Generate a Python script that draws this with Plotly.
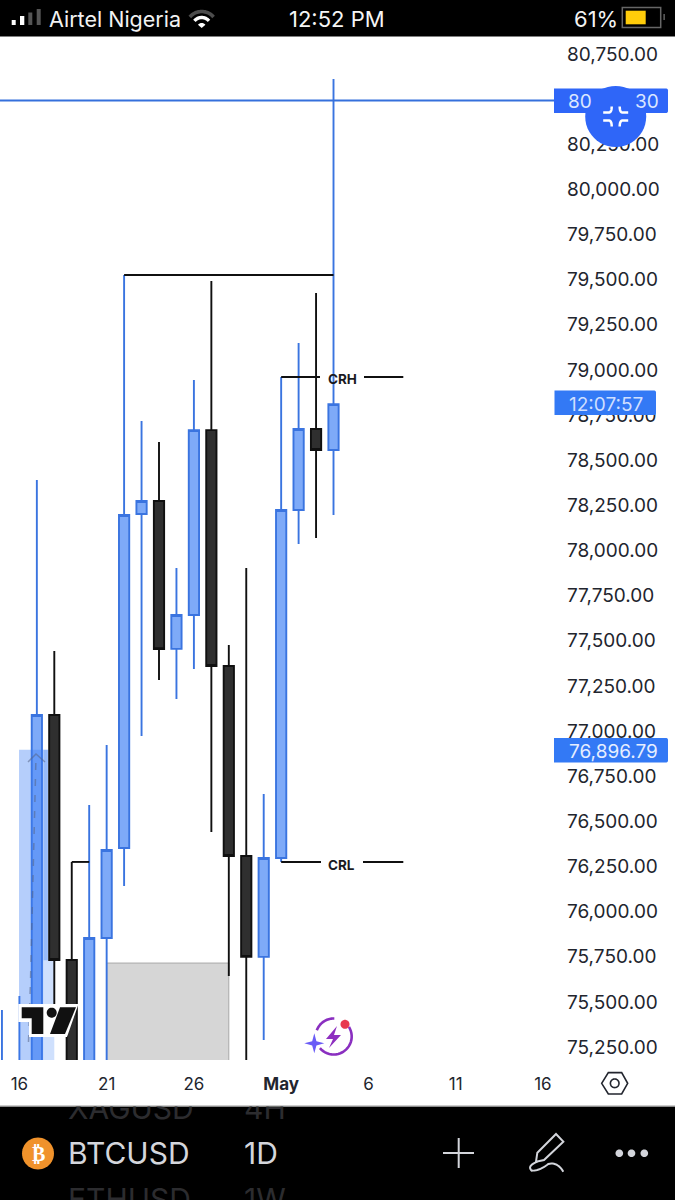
import math
import pandas as pd
import plotly.graph_objects as go

# ---------- chart data ----------
DATES = ["2026-04-15","2026-04-16","2026-04-17","2026-04-18","2026-04-19","2026-04-20","2026-04-21",
         "2026-04-22","2026-04-23","2026-04-24","2026-04-25","2026-04-26","2026-04-27","2026-04-28",
         "2026-04-29","2026-04-30","2026-05-01","2026-05-02","2026-05-03","2026-05-04"]
OPEN  = [74950,75000,75150,77089,75732,75100,75854,76352,78202,78274,77455,77643,78667,77360,
         76308,75749,76297,78224,78673,78557]
HIGH  = [75455,75532,78390,77443,76275,76590,76923,79526,78717,78601,77903,78944,79493,77477,
         77903,76651,78961,79149,79426,80611]
LOW   = [74700,74800,74900,75483,74800,74900,75000,76142,76973,77283,77178,77344,76441,75643,
         75000,75289,76275,78036,78069,78197]
CLOSE = [75100,75150,77089,75732,75100,75854,76341,78197,78274,77454,77643,78667,77360,76308,
         75749,76297,78224,78673,78557,78811]

PRICE_TICKS = [75250,75500,75750,76000,76250,76500,76750,77000,77250,77500,77750,78000,
               78250,78500,78750,79000,79250,79500,79750,80000,80250,80500,80750]
PRICE_TEXT = [f"{v:,.2f}" for v in PRICE_TICKS]
DATE_TICKS = ["2026-04-16","2026-04-21","2026-04-26","2026-05-01","2026-05-06","2026-05-11","2026-05-16"]
DATE_TEXT = ["16","21","26","<b>May</b>","6","11","16"]

LAST_PRICE = 80492.3
ENTRY_PRICE = 76896.79
CRH = 78961
CRL = 76275
SWING_HIGH = 79526
BOX_TOP = 75715
COUNTDOWN = "12:07:57"

# ---------- page geometry ----------
W, H = 675, 1200
PLOT_TOP, PLOT_BOTTOM, PLOT_RIGHT = 37, 1060, 554
PX_PER_PRICE = 993 / 5500
def price_at(py):
    return 80750 - (py - 54) / PX_PER_PRICE
APR16 = pd.Timestamp("2026-04-16")
def day(n):
    return (APR16 + pd.Timedelta(hours=24 * n)).strftime("%Y-%m-%d %H:%M")
def day_at(px):
    return (px - 19.4) / 17.45

def X(px): return px / W
def Y(py): return 1 - py / H
def path(pts, close=False):
    s = "M" + " L".join(f"{X(a):.5f},{Y(b):.5f}" for a, b in pts)
    return s + (" Z" if close else "")
def arc(cx, cy, r, a0, a1, n=24, ry=None):
    ry = r if ry is None else ry
    return [(cx + r * math.cos(math.radians(a0 + (a1 - a0) * i / n)),
             cy - ry * math.sin(math.radians(a0 + (a1 - a0) * i / n))) for i in range(n + 1)]
def curve(p0, p1, p2, n=12):
    return [((1-t)**2*p0[0]+2*t*(1-t)*p1[0]+t*t*p2[0], (1-t)**2*p0[1]+2*t*(1-t)*p1[1]+t*t*p2[1])
            for t in [i/n for i in range(n+1)]]

shapes = []
def poly(pts, fill=None, line=None, lw=0, close=True, layer="above"):
    shapes.append(dict(type="path", xref="paper", yref="paper", layer=layer, path=path(pts, close),
                       fillcolor=fill if fill else "rgba(0,0,0,0)",
                       line=dict(color=line if line else "rgba(0,0,0,0)", width=lw)))
def rect(x0, y0, x1, y1, fill, line=None, lw=0, layer="above"):
    shapes.append(dict(type="rect", xref="paper", yref="paper", layer=layer,
                       x0=X(x0), x1=X(x1), y0=Y(y1), y1=Y(y0), fillcolor=fill,
                       line=dict(color=line if line else "rgba(0,0,0,0)", width=lw)))
def circle(cx, cy, r, fill=None, line=None, lw=0, layer="above"):
    poly(arc(cx, cy, r, 0, 360, 48), fill, line, lw, True, layer)
def rrect(x0, y0, x1, y1, r, fill):
    poly(arc(x1-r, y0+r, r, 90, 0, 6) + arc(x1-r, y1-r, r, 0, -90, 6) + [(x0, y1), (x0, y0)], fill)
def dline(x0, y0, x1, y1, color, lw=1.9, dash="solid", layer="above"):
    shapes.append(dict(type="line", xref="x", yref="y", layer=layer, x0=x0, x1=x1, y0=y0, y1=y1,
                       line=dict(color=color, width=lw, dash=dash)))

BLACK_LN, BLUE_LN = "#101010", "#3a74e0"

# below candles: gray box, pale part of the position tool, chrome
shapes.append(dict(type="rect", xref="x", yref="y", layer="below", x0=day(5), x1=day(12),
                   y0=74900, y1=BOX_TOP, fillcolor="#d6d6d6", line=dict(color="#a9a9a9", width=1)))
shapes.append(dict(type="rect", xref="x", yref="y", layer="below", x0=day(1.38), x1=day(2.0),
                   y0=74900, y1=ENTRY_PRICE, fillcolor="#cfe0fd", line=dict(width=0)))
rect(0, 0, W, 36.5, "#000000", layer="below")
rect(0, 1106.5, W, H, "#000000", layer="below")
rect(0, 1105.5, W, 1106.5, "#9a9a9a", layer="below")

# position tool overlay
shapes.append(dict(type="rect", xref="x", yref="y", layer="above", x0=day(-0.02), x1=day(1.38),
                   y0=74900, y1=ENTRY_PRICE, fillcolor="rgba(60,125,245,0.38)", line=dict(width=0)))
shapes.append(dict(type="rect", xref="x", yref="y", layer="above", x0=day(1.38), x1=day(1.63),
                   y0=75731, y1=ENTRY_PRICE, fillcolor="rgba(60,125,245,0.38)", line=dict(width=0)))
poly([(28.5, 1042), (30.5, 980), (36, 756)], None, "rgba(85,100,135,0.55)", 1.5, False)
shapes[-1]["line"]["dash"] = "7px,9px"
poly([(28, 762), (36, 754), (45, 762)], None, "rgba(85,100,135,0.55)", 1.5, False)

# drawn lines
shapes.append(dict(type="line", xref="x domain", yref="y", layer="above", x0=0, x1=1, y0=LAST_PRICE, y1=LAST_PRICE,
                   line=dict(color="#3570dc", width=1.9)))
dline(day(6), SWING_HIGH, day(18), SWING_HIGH, BLACK_LN)
dline(day(3), CRL, day(4), CRL, BLACK_LN)
dline(day(15), CRH, day(day_at(320)), CRH, BLACK_LN)
dline(day(day_at(364)), CRH, day(22), CRH, BLACK_LN)
dline(day(15), CRL, day(day_at(321)), CRL, BLACK_LN)
dline(day(day_at(363)), CRL, day(22), CRL, BLACK_LN)

# TradingView logo
poly([(18.3,1004),(78.5,1004),(67,1037),(29,1037),(29,1022),(18.3,1022)], "#ffffff")
poly([(21.7,1007.3),(43.3,1007.3),(43.3,1034),(31.7,1034),(31.7,1018.3),(21.7,1018.3)], "#111111")
circle(51.7, 1012.7, 5, "#111111")
poly([(60,1007.3),(76,1007.3),(65,1034),(50,1034)], "#111111")

# price badges + collapse button
rrect(554, 88.5, 668, 113, 2, "#2f66f8")
rrect(554.5, 390.5, 656, 415, 2, "#3379f5")
rrect(554, 738, 668, 762.5, 2, "#3379f5")
circle(615.7, 116.5, 30.5, "#2f66f8")
for sx in (-1, 1):
    for sy in (-1, 1):
        c = (615.7, 116.5)
        poly([(c[0]+sx*12.5, c[1]+sy*4)] + curve((c[0]+sx*7, c[1]+sy*4), (c[0]+sx*4, c[1]+sy*4), (c[0]+sx*4, c[1]+sy*10)),
             None, "#ffffff", 2.5, False)

# status bar icons
rect(11.7, 20, 15.7, 25, "#ffffff")
rect(20, 16, 24.3, 25, "#ffffff")
rect(28.3, 12.5, 32.3, 25, "#555555")
rect(36.7, 9, 40.7, 25, "#555555")
poly(arc(201.7, 27, 15.5, 40, 140), None, "#4d4d4d", 3.6, False)
poly(arc(201.7, 27, 9.5, 40, 140), None, "#ffffff", 3.4, False)
poly([(201.7, 28)] + arc(201.7, 28, 5, 42, 138, 8), "#ffffff")
rect(622.3, 7.5, 660.7, 27.5, "rgba(0,0,0,0)", "#666666", 1.5)
rect(625.7, 10.7, 645.7, 24.3, "#ffcc0a")
rect(663.3, 14, 665, 20, "#555555")

# bottom-axis hexagon
hexa = [(515,70),(535,38),(575,38),(593,70),(575,102),(535,102)]
poly([(a/3+430, b/3+1060) for a, b in hexa], None, "#22252e", 1.6)
circle(614.7, 1083.3, 4.3, None, "#22252e", 1.6)

# spark icon
poly(arc(333.7, 1036.5, 18, 160, 88), None, "#8a2fc0", 2.6, False)
poly(arc(333.7, 1036.5, 18, 32, -140), None, "#8a2fc0", 2.6, False)
poly([(337,1026),(326,1039),(333,1039),(329,1048),(341,1035),(334,1035)], "#8e2fc0")
star = []
for i in range(8):
    r = 10 if i % 2 == 0 else 3
    a = math.radians(45 * i)
    star.append((314.3 + r * math.cos(a), 1043.3 - r * math.sin(a)))
poly(star, "#6a5cf6")
circle(345, 1024.3, 4.5, "#e8384f")

# footer icons
circle(38, 1153.5, 16, "#f0922b")
FOOT = "#d3d5db"
poly([(443,1153),(474,1153)], None, FOOT, 2, False)
poly([(458.7,1138),(458.7,1168)], None, FOOT, 2, False)
def pz(a, b): return (a/3+430, b/3+1060)
poly([pz(378,222),pz(400,245),pz(342,300),pz(318,305),pz(322,278)], None, FOOT, 2)
poly(curve(pz(322,305), pz(290,318), pz(305,332)) + curve(pz(305,332), pz(330,332), pz(355,312)) +
     curve(pz(355,312), pz(382,305), pz(400,335)), None, FOOT, 2, False)
for cx in (619.3, 631.5, 644.3):
    circle(cx, 1153.3, 3.8, FOOT)

# ---------- text ----------
FONT = "Inter"
annotations = []
def text(px, py, s, size, color, anchor="center", family=FONT):
    annotations.append(dict(xref="paper", yref="paper", x=X(px), y=Y(py), text=s, showarrow=False,
                            xanchor=anchor, yanchor="middle", font=dict(family=family, size=size, color=color)))
text(47, 19, "Airtel Nigeria", 21.5, "#f2f2f2", "left")
text(337, 19, "12:52 PM", 22, "#f5f5f5")
text(620, 19, "61%", 22, "#f2f2f2", "right")
text(566, 102, "80", 19, "#dbe6ff", "left")
text(661, 102, "30", 19, "#dbe6ff", "right")
text(606, 404, COUNTDOWN, 19, "#cfdfff")
text(613.5, 751, f"{ENTRY_PRICE:,.2f}", 19, "#e6eeff")
text(342, 379, "<b>CRH</b>", 13.5, "#1a1a1f")
text(341.5, 864.5, "<b>CRL</b>", 13.5, "#1a1a1f")
text(38, 1153.5, "<b>₿</b>", 20, "#ffffff", family="DejaVu Sans")

# ---------- figure ----------
fig = go.Figure()
fig.add_trace(go.Candlestick(
    x=DATES, open=OPEN, high=HIGH, low=LOW, close=CLOSE, showlegend=False, hoverinfo="skip",
    increasing=dict(line=dict(color=BLUE_LN, width=1.9), fillcolor="#7eaaf8"),
    decreasing=dict(line=dict(color=BLACK_LN, width=1.9), fillcolor="#2f2f2f"),
    xaxis="x", yaxis="y"))
fig.add_trace(go.Scatter(
    x=[68, 244, 68, 244, 68, 244], y=[1156, 1156, 1111, 1111, 1202, 1202],
    text=["BTCUSD", "1D", "XAGUSD", "4H", "ETHUSD", "1W"], mode="text", textposition="middle right",
    textfont=dict(family=FONT, size=30, color=["#d4d6dc", "#d4d6dc", "#2c2c2f", "#2c2c2f", "#2c2c2f", "#2c2c2f"]),
    showlegend=False, hoverinfo="skip", xaxis="x2", yaxis="y2"))

fig.update_layout(
    width=W, height=H, margin=dict(l=0, r=0, t=0, b=0), autosize=False,
    paper_bgcolor="#ffffff", plot_bgcolor="rgba(0,0,0,0)", showlegend=False,
    shapes=shapes, annotations=annotations, hovermode=False, boxgap=0.16, boxgroupgap=0.3,
    xaxis=dict(type="date", domain=[0, PLOT_RIGHT / W], range=[day(day_at(0)), day(day_at(PLOT_RIGHT))],
               rangeslider=dict(visible=False), showgrid=False, zeroline=False, showline=False,
               tickmode="array", tickvals=DATE_TICKS, ticktext=DATE_TEXT, ticks="", ticklabelstandoff=12,
               tickfont=dict(family=FONT, size=17, color="#22252e"), fixedrange=True, anchor="y"),
    yaxis=dict(domain=[1 - PLOT_BOTTOM / H, 1 - PLOT_TOP / H], range=[price_at(PLOT_BOTTOM), price_at(PLOT_TOP)],
               side="right", showgrid=False, zeroline=False, showline=False, ticks="",
               tickmode="array", tickvals=PRICE_TICKS, ticktext=PRICE_TEXT, ticklabelstandoff=12,
               tickfont=dict(family=FONT, size=19, color="#22252e"), fixedrange=True, anchor="x"),
    xaxis2=dict(domain=[0, 1], range=[0, W], visible=False, fixedrange=True, anchor="y2"),
    yaxis2=dict(domain=[0, 1 - 1106.5 / H], range=[H, 1106.5], visible=False, fixedrange=True, anchor="x2"),
)
fig.write_html("out.html", config=dict(displayModeBar=False),
               post_script="document.body.style.margin='0';")
